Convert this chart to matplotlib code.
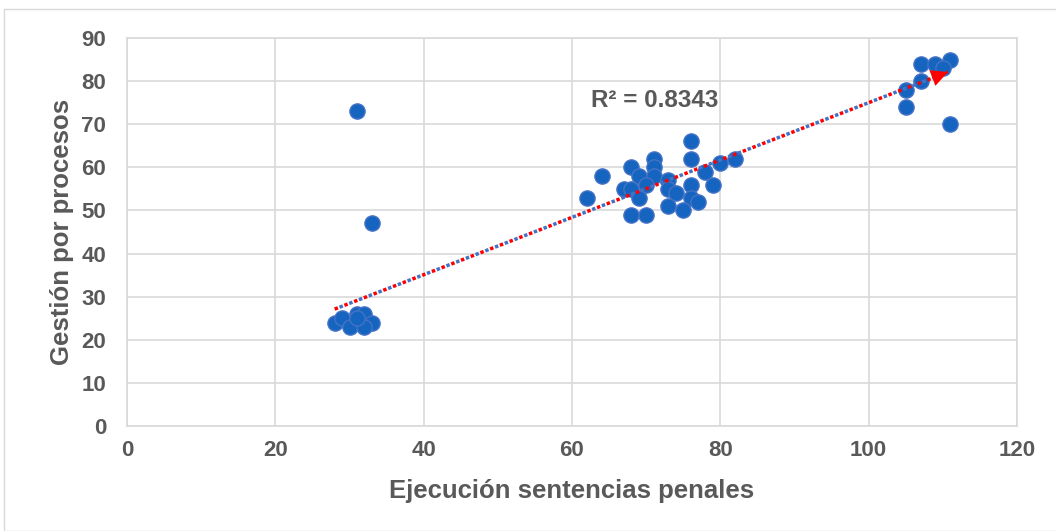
import numpy as np
import matplotlib
matplotlib.use('Agg')
import matplotlib.pyplot as plt
from matplotlib.patches import Rectangle

plt.rcParams['font.family'] = ['Liberation Sans', 'DejaVu Sans']

# Ejecución sentencias penales (x) vs Gestión por procesos (y)
ejecucion = [28, 29, 30, 31, 32, 33, 32, 31, 31, 33,
             76, 76, 71, 71, 68, 64, 69, 71, 70, 73,
             78, 80, 82, 76, 79, 67, 68, 73, 74, 69,
             62, 76, 77, 73, 75, 68, 70,
             107, 109, 111, 110, 107, 105, 105, 111]
gestion = [24, 25, 23, 26, 26, 24, 23, 25, 73, 47,
           66, 62, 62, 60, 60, 58, 58, 58, 56, 57,
           59, 61, 62, 56, 56, 55, 55, 55, 54, 53,
           53, 53, 52, 51, 50, 49, 49,
           84, 84, 85, 83, 80, 78, 74, 70]
# linear trend as shown on the chart
trend_slope = 0.665
trend_intercept = 8.5
trend_x = [28, 110.7]
r2_label = 'R² = 0.8343'

x = np.array(ejecucion, dtype=float)
y = np.array(gestion, dtype=float)

fig = plt.figure(figsize=(10.56, 5.31), dpi=100)
ax = fig.add_axes([0.1203, 0.1977, 0.8427, 0.7307])

# chart border
fig.patches.append(Rectangle((4 / 1056, 0), 1.0, 1 - 9 / 531, transform=fig.transFigure,
                             fill=False, edgecolor='#D9D9D9', linewidth=1.0))

grey = '#595959'
ax.set_xlim(0, 120)
ax.set_ylim(0, 90)
ax.set_xticks(range(0, 121, 20))
ax.set_yticks(range(0, 91, 10))
ax.grid(True, color='#D9D9D9', linewidth=1.2)
ax.set_axisbelow(True)
for s in ax.spines.values():
    s.set_color('#D9D9D9')
    s.set_linewidth(1.2)
ax.tick_params(length=0, labelsize=16, labelcolor=grey)
ax.tick_params(axis='x', pad=10)
ax.tick_params(axis='y', pad=15)
for lab in ax.get_xticklabels() + ax.get_yticklabels():
    lab.set_fontweight('bold')

ax.scatter(x, y, s=120, color='#1565C0', edgecolor='#4472C4', linewidth=1.0, zorder=3)

# trendline: red and blue dots interleaved, arrow head at the end
xs = np.array(trend_x)
ys = trend_slope * xs + trend_intercept
ax.plot(xs, ys, color='red', linewidth=2.5, linestyle=(0, (1, 2)), zorder=4)
ax.plot(xs, ys, color='#4472C4', linewidth=2.5, linestyle=(1.5, (1, 2)), zorder=4)
ax.annotate('', xy=(xs[1], ys[1]), xytext=(xs[1] - 3, ys[1] - 3 * trend_slope),
            arrowprops=dict(arrowstyle='-|>', color='red', mutation_scale=30, lw=0,
                            shrinkA=0, shrinkB=0),
            zorder=5)

ax.text(71.2, 75.4, r2_label, fontsize=17.5, fontweight='bold', color=grey,
        ha='center', va='center')

ax.set_xlabel('Ejecución sentencias penales', fontsize=18.5, fontweight='bold',
              color=grey, labelpad=13)
ax.set_ylabel('Gestión por procesos', fontsize=18.5, fontweight='bold',
              color=grey, labelpad=5)

fig.savefig('out.png', dpi=100)
